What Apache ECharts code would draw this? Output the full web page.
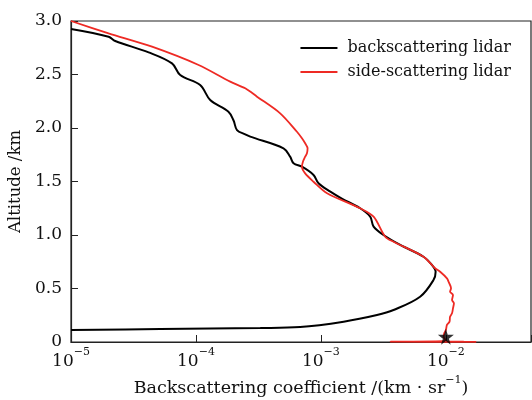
<!DOCTYPE html>
<html>
<head>
<meta charset="utf-8">
<script src="https://cdn.jsdelivr.net/npm/echarts@6/dist/echarts.min.js"></script>
<style>
	html, body { margin: 0; padding: 0; background: #fff; }
	#chart { width: 532px; height: 400px; }
</style>
</head>
<body>
<div id="chart"></div>
<script>
// backscattering lidar (black)
var backCoef = [1.0e-5, 2.0e-5, 2.26e-5, 4.18e-5, 6.43e-5, 7.48e-5, 1.08e-4, 1.30e-4, 1.82e-4, 2.0e-4,
	2.13e-4, 2.48e-4, 2.72e-4, 5.02e-4, 5.67e-4, 6.04e-4, 7.05e-4, 8.73e-4, 9.57e-4, 1.19e-3,
	1.47e-3, 2.06e-3, 2.48e-3, 2.64e-3, 3.17e-3, 4.31e-3, 6.62e-3, 7.73e-3, 8.28e-3, 7.96e-3,
	6.22e-3, 3.81e-3, 2.81e-3, 1.52e-3, 6.82e-4, 3.27e-4, 5.18e-5, 1.0e-5];
var backAlt = [2.925, 2.853, 2.813, 2.707, 2.604, 2.495, 2.402, 2.262, 2.152, 2.07,
	1.981, 1.941, 1.919, 1.810, 1.732, 1.670, 1.638, 1.561, 1.483, 1.405,
	1.340, 1.250, 1.171, 1.078, 1.0, 0.907, 0.797, 0.72, 0.657, 0.579,
	0.423, 0.299, 0.252, 0.190, 0.140, 0.131, 0.121, 0.112];

// side-scattering lidar (red)
var sideCoef = [1.0e-5, 2.0e-5, 4.45e-5, 1.05e-4, 1.88e-4, 2.48e-4, 3.08e-4, 4.72e-4, 6.43e-4, 7.05e-4,
	7.48e-4, 7.82e-4, 7.73e-4, 7.48e-4, 7.18e-4, 7.05e-4, 7.48e-4, 8.73e-4, 1.12e-3, 2.06e-3,
	2.64e-3, 3.27e-3, 3.81e-3, 6.62e-3, 8.2e-3, 9.0e-3, 1.02e-2, 1.05e-2, 1.10e-2, 1.08e-2,
	1.14e-2, 1.12e-2, 1.16e-2, 1.14e-2, 1.12e-2, 1.08e-2, 1.07e-2, 1.02e-2, 1.0e-2, 9.7e-3,
	9.6e-3, 9.9e-3, 9.5e-3, 3.6e-3, 1.75e-2, 5.5e-3, 1.4e-2, 6.5e-3, 1.25e-2];
var sideAlt = [3.0, 2.885, 2.760, 2.589, 2.433, 2.371, 2.293, 2.137, 1.965, 1.904,
	1.857, 1.810, 1.763, 1.732, 1.685, 1.638, 1.576, 1.498, 1.390, 1.250,
	1.171, 0.984, 0.937, 0.797, 0.689, 0.657, 0.595, 0.564, 0.502, 0.470,
	0.439, 0.393, 0.362, 0.315, 0.268, 0.237, 0.190, 0.159, 0.112, 0.081,
	0.05, 0.02, 0.008, 0.003, 0.002, 0.004, 0.003, 0.002, 0.001];

var starPoint = [[1.0e-2, 0.05]];
var xTicks = [1e-5, 1e-4, 1e-3, 1e-2];
var seriesNames = ['backscattering lidar', 'side-scattering lidar'];

function zip(xs, ys) {
	var out = [];
	for (var i = 0; i < xs.length; i++) {
		out.push([xs[i], ys[i]]);
	}
	return out;
}

var FONT = 'DejaVu Serif';
var sup = {
	b: { fontFamily: FONT, fontSize: 17, color: '#111', lineHeight: 23, verticalAlign: 'bottom' },
	s: { fontFamily: FONT, fontSize: 11, color: '#111', lineHeight: 23, verticalAlign: 'top' }
};

var myChart = echarts.init(document.getElementById('chart'));
var option = {
	backgroundColor: '#fff',
	animation: false,
	grid: {
		left: 71, top: 21, right: 1, bottom: 58,
		outerBoundsMode: 'none',
		containLabel: false,
		show: true, borderColor: '#222', borderWidth: 1.2
	},
	legend: {
		data: seriesNames,
		orient: 'vertical',
		right: 16, top: 35,
		icon: 'rect', itemWidth: 37, itemHeight: 2, itemGap: 8,
		textStyle: { fontFamily: FONT, fontSize: 16, color: '#111', padding: [0, 0, 0, 5] }
	},
	xAxis: {
		type: 'log',
		min: 1e-5, max: 0.048,
		name: '{n|Backscattering coefficient /(km · sr}{s|−1}{n|)}',
		nameLocation: 'middle',
		nameGap: 27,
		nameTextStyle: {
			rich: {
				n: { fontFamily: FONT, fontSize: 17.5, color: '#111', lineHeight: 23, verticalAlign: 'bottom' },
				s: { fontFamily: FONT, fontSize: 11, color: '#111', lineHeight: 23, verticalAlign: 'top' }
			}
		},
		axisLine: { lineStyle: { color: '#222', width: 1.2 } },
		axisTick: { inside: true, length: 7, lineStyle: { color: '#222' } },
		splitLine: { show: false },
		axisLabel: {
			margin: 5,
			formatter: function(v) {
				for (var i = 0; i < xTicks.length; i++) {
					if (Math.abs(Math.log10(v) - Math.log10(xTicks[i])) < 1e-6) {
						return '{b|10}{s|−' + (-Math.round(Math.log10(v))) + '}';
					}
				}
				return '';
			},
			rich: sup
		}
	},
	yAxis: {
		type: 'value',
		min: 0, max: 3, interval: 0.5,
		name: 'Altitude /km',
		nameLocation: 'middle',
		nameGap: 45,
		nameTextStyle: { fontFamily: FONT, fontSize: 16.5, color: '#111' },
		axisLine: { show: true, lineStyle: { color: '#222', width: 1.2 } },
		axisTick: { show: true, inside: true, length: 7, lineStyle: { color: '#222' } },
		splitLine: { show: false },
		axisLabel: {
			margin: 9,
			fontFamily: FONT, fontSize: 17, color: '#111',
			formatter: function(v) {
				return v === 0 ? '0' : v.toFixed(1);
			}
		}
	},
	series: [
		{
			name: seriesNames[0],
			type: 'line',
			data: zip(backCoef, backAlt),
			showSymbol: false,
			symbol: 'none',
			smooth: 0.35,
			itemStyle: { color: '#000' },
			lineStyle: { color: '#000', width: 2 },
			z: 2
		},
		{
			name: seriesNames[1],
			type: 'line',
			data: zip(sideCoef, sideAlt),
			showSymbol: false,
			symbol: 'none',
			smooth: 0.3,
			itemStyle: { color: '#ee2a24' },
			lineStyle: { color: '#ee2a24', width: 1.8 },
			z: 3
		},
		{
			type: 'scatter',
			data: starPoint,
			symbol: 'path://M50,0 L61,35 L98,35 L68,57 L79,91 L50,70 L21,91 L32,57 L2,35 L39,35 Z',
			symbolSize: 16,
			itemStyle: { color: '#000' },
			z: 5
		}
	]
};
myChart.setOption(option);
</script>
</body>
</html>
